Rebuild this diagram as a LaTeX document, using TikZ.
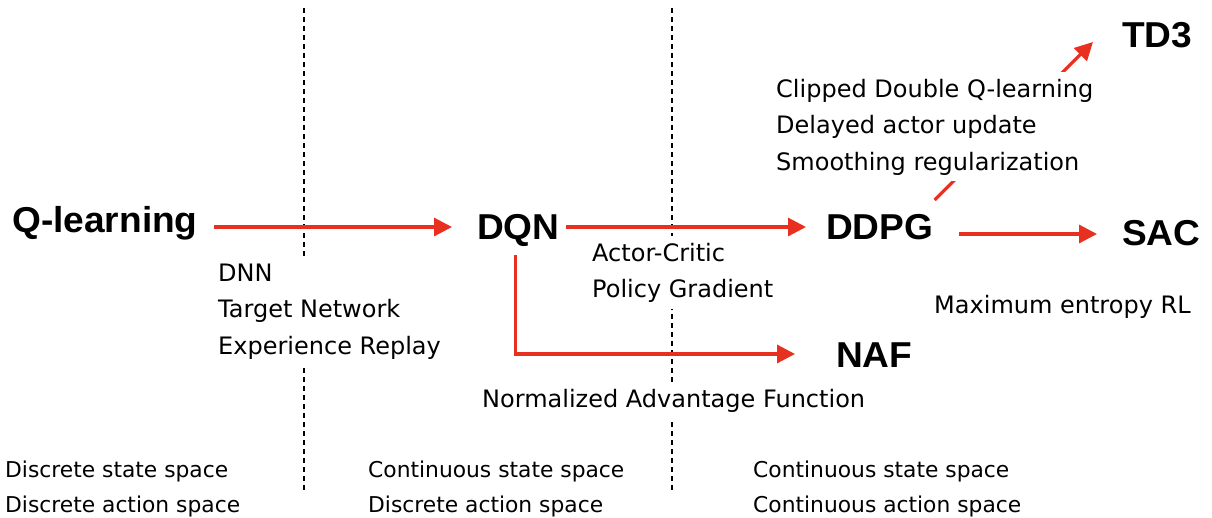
\documentclass[tikz,border=0pt]{standalone}
\usepackage{fontspec}
\setmainfont{DejaVu Sans}
\newfontfamily\titlefont[FakeStretch=1.03]{Liberation Sans}
\usetikzlibrary{arrows.meta}
\definecolor{arrred}{RGB}{232,48,32}
\tikzset{
 title/.style={anchor=base west, inner sep=0pt, font=\titlefont\bfseries\fontsize{36}{42}\selectfont},
 lbl/.style={anchor=north west, inner xsep=4pt, inner ysep=0pt, align=left, fill=white, font=\fontsize{24}{36.5}\selectfont},
 foot/.style={anchor=north west, inner sep=0pt, align=left, font=\fontsize{21.8}{35}\selectfont},
 arr/.style={draw=arrred, line width=3.2pt, -{Triangle[length=18pt,width=18pt]}},
 divider/.style={draw=black, line width=2.5pt, dash pattern=on 5pt off 4pt},
}
\begin{document}
\begin{tikzpicture}[x=1pt,y=-1pt]
\useasboundingbox (0,0) rectangle (1212,517);
% dividers
\draw[divider] (304,8) -- (304,490);
\draw[divider] (672,8) -- (672,490);
% titles
\node[title] (ql) at (12,232) {Q-learning};
\node[title] (dqn) at (477,239) {DQN};
\node[title] (ddpg) at (826,239) {DDPG};
\node[title] (sac) at (1122,245) {SAC};
\node[title] (naf) at (836,367) {NAF};
\node[title] (td3) at (1122,47) {TD3};
% connectors
\draw[arr] ([xshift=16pt,yshift=5pt]ql.base east) -- ([xshift=-25pt,yshift=12pt]dqn.base west);
\draw[arr] ([xshift=6pt,yshift=12pt]dqn.base east) -- ([xshift=-20pt,yshift=12pt]ddpg.base west);
\draw[arr] ([xshift=25pt,yshift=5pt]ddpg.base east) -- ([xshift=-25pt,yshift=11pt]sac.base west);
\draw[arr] ([xshift=-3pt,yshift=-16pt]dqn.base) |- ([xshift=-41pt,yshift=13pt]naf.base west);
\draw[arr] ([xshift=1pt,yshift=39pt]ddpg.base east) -- ([xshift=-29pt,yshift=5pt]td3.base west);
% labels
\node[lbl] (l1) at (214,255.5) {\strut DNN\\\strut Target Network\\\strut Experience Replay};
\node[lbl] (l2) at (588,235.5) {\strut Actor-Critic\\\strut Policy Gradient};
\node[lbl] (l3) at (478,381.5) {\strut Normalized Advantage Function};
\node[lbl] (l4) at (772,71.5) {\strut Clipped Double Q-learning\\\strut Delayed actor update\\\strut Smoothing regularization};
\node[anchor=base west, inner sep=0pt, font=\fontsize{24}{36.5}\selectfont] (l5) at (934,313) {Maximum entropy RL};
% footers
\node[foot] (f1) at (5,452.5) {\strut Discrete state space\\\strut Discrete action space};
\node[foot] (f2) at (368,452.5) {\strut Continuous state space\\\strut Discrete action space};
\node[foot] (f3) at (753,452.5) {\strut Continuous state space\\\strut Continuous action space};
\end{tikzpicture}
\end{document}
